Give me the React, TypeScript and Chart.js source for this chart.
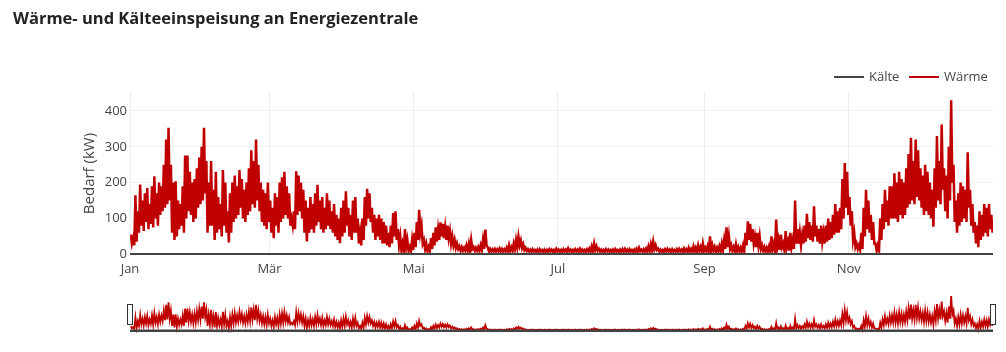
import React, { useEffect, useRef } from 'react';
import { Chart, registerables } from 'chart.js';

Chart.register(...registerables);

const TITLE = 'Wärme- und Kälteeinspeisung an Energiezentrale';
const Y_TITLE = 'Bedarf (kW)';
const SERIES_NAMES = ['Kälte', 'Wärme'];
const SERIES_COLORS = ['#444444', '#c00000'];
const MONTH_TICK_DAYS = [0, 59, 120, 181, 243, 304];
const MONTH_TICK_LABELS = ['Jan', 'Mär', 'Mai', 'Jul', 'Sep', 'Nov'];
const Y_TICKS = [0, 100, 200, 300, 400];

// Kälte: flat at zero over the whole year (day of year)
const kaelteDays = [0, 365];
const kaelteValues = [0, 0];

// Wärme: daily maximum and minimum (kW), day 0 = 1 Jan
const waermeDailyHigh = [
  55, 45, 165, 120, 195, 150, 170,
  185, 140, 190, 218, 170, 200, 190,
  250, 320, 353, 250, 200, 204, 150,
  140, 190, 276, 276, 230, 200, 210,
  240, 270, 300, 353, 260, 200, 260,
  180, 230, 160, 140, 235, 200, 120,
  170, 200, 220, 190, 235, 210, 180,
  200, 240, 290, 260, 320, 250, 200,
  180, 170, 200, 150, 130, 170, 160,
  200, 215, 230, 190, 170, 100, 120,
  232, 220, 200, 180, 150, 130, 160,
  140, 170, 194, 150, 160, 130, 170,
  150, 120, 140, 110, 100, 130, 150,
  176, 130, 110, 150, 160, 100, 60,
  100, 160, 183, 170, 130, 110, 100,
  110, 100, 90, 80, 60, 80, 115,
  120, 70, 50, 30, 70, 40, 20,
  40, 60, 90, 124, 80, 40, 30,
  20, 45, 60, 75, 70, 89, 85,
  75, 80, 65, 50, 40, 30, 22,
  20, 18, 25, 30, 40, 20, 18,
  20, 25, 40, 69, 20, 15, 14,
  15, 14, 16, 15, 14, 18, 25,
  20, 30, 40, 49, 38, 28, 18,
  14, 13, 14, 12, 13, 14, 12,
  13, 12, 14, 13, 12, 15, 13,
  12, 14, 13, 16, 13, 12, 14,
  13, 15, 13, 12, 14, 16, 22,
  30, 22, 15, 13, 12, 14, 13,
  12, 13, 14, 12, 13, 14, 15,
  13, 14, 12, 13, 15, 18, 13,
  14, 16, 22, 28, 35, 25, 16,
  13, 12, 14, 15, 13, 14, 12,
  14, 15, 13, 16, 14, 18, 15,
  22, 18, 25, 20, 30, 18, 22,
  50, 25, 20, 18, 22, 30, 40,
  75, 50, 25, 20, 28, 20, 18,
  25, 60, 92, 85, 70, 50, 60,
  50, 25, 20, 18, 22, 50, 30,
  97, 40, 55, 30, 65, 35, 60,
  40, 150, 70, 60, 55, 80, 113,
  90, 80, 134, 80, 70, 80, 60,
  80, 100, 90, 110, 140, 120, 130,
  210, 255, 230, 160, 120, 60, 30,
  25, 60, 130, 180, 150, 110, 90,
  30, 25, 100, 140, 180, 150, 190,
  190, 226, 200, 230, 210, 200, 240,
  280, 325, 260, 320, 290, 240, 220,
  250, 230, 200, 180, 240, 330, 260,
  362, 240, 220, 300, 430, 250, 150,
  170, 200, 190, 180, 285, 180, 140,
  90, 80, 120, 110, 140, 130, 140,
  110,
];

const waermeDailyLow = [
  30, 25, 35, 60, 80, 65, 90,
  70, 85, 75, 100, 80, 110, 120,
  130, 140, 150, 60, 40, 50, 70,
  80, 60, 100, 120, 110, 90, 100,
  130, 140, 150, 170, 60, 80, 80,
  40, 60, 70, 50, 80, 60, 33,
  60, 90, 100, 110, 130, 100, 90,
  110, 120, 140, 130, 150, 120, 90,
  80, 70, 90, 60, 45, 80, 60,
  90, 100, 110, 100, 80, 80, 70,
  110, 120, 100, 60, 36, 60, 70,
  60, 80, 90, 70, 60, 70, 80,
  70, 60, 50, 40, 31, 50, 60,
  80, 50, 40, 60, 60, 30, 25,
  40, 80, 100, 90, 60, 40, 50,
  40, 30, 30, 25, 20, 30, 50,
  40, 25, 10, 12, 20, 10, 8,
  12, 20, 40, 60, 30, 15, 10,
  8, 15, 25, 35, 40, 50, 45,
  40, 45, 30, 25, 18, 15, 10,
  10, 10, 12, 10, 15, 10, 10,
  10, 12, 15, 25, 8, 8, 8,
  8, 8, 8, 8, 8, 9, 10,
  10, 15, 20, 25, 18, 12, 9,
  8, 7, 8, 7, 7, 8, 7,
  7, 7, 8, 7, 7, 8, 7,
  7, 8, 7, 8, 7, 7, 8,
  7, 8, 7, 7, 8, 8, 10,
  12, 10, 8, 7, 7, 8, 7,
  7, 7, 8, 7, 7, 8, 8,
  7, 8, 7, 7, 8, 9, 7,
  8, 8, 10, 12, 15, 12, 8,
  7, 7, 8, 8, 7, 8, 7,
  8, 8, 7, 8, 7, 8, 8,
  8, 8, 10, 8, 10, 8, 10,
  10, 10, 8, 8, 10, 12, 15,
  20, 15, 10, 8, 10, 8, 8,
  10, 25, 40, 35, 30, 20, 25,
  15, 10, 8, 8, 10, 15, 10,
  20, 12, 20, 10, 20, 10, 20,
  15, 30, 30, 25, 30, 35, 45,
  40, 35, 50, 35, 30, 35, 30,
  35, 40, 45, 55, 60, 60, 70,
  100, 130, 110, 80, 40, 20, 15,
  12, 15, 50, 70, 60, 40, 30,
  10, 12, 40, 70, 90, 80, 100,
  100, 100, 90, 110, 100, 110, 130,
  140, 150, 140, 160, 150, 130, 110,
  120, 110, 100, 77, 130, 150, 140,
  180, 120, 100, 150, 200, 90, 60,
  80, 90, 100, 90, 130, 80, 60,
  30, 20, 40, 50, 60, 50, 70,
  60,
];

const FONT = '"Open Sans", "Noto Sans", sans-serif';

function buildWaermePoints() {
  const pts: { x: number; y: number }[] = [];
  waermeDailyHigh.forEach((h, d) => {
    pts.push({ x: d + 0.3, y: h });
    pts.push({ x: d + 0.8, y: waermeDailyLow[d] });
  });
  return pts;
}

function buildKaeltePoints() {
  return kaelteDays.map((d, i) => ({ x: d, y: kaelteValues[i] }));
}

function makeDatasets(widths: number[]) {
  return [
    {
      label: SERIES_NAMES[0],
      data: buildKaeltePoints(),
      borderColor: SERIES_COLORS[0],
      backgroundColor: SERIES_COLORS[0],
      borderWidth: widths[0],
      pointRadius: 0,
      tension: 0,
    },
    {
      label: SERIES_NAMES[1],
      data: buildWaermePoints(),
      borderColor: SERIES_COLORS[1],
      backgroundColor: SERIES_COLORS[1],
      borderWidth: widths[1],
      pointRadius: 0,
      tension: 0,
    },
  ];
}

const decorPlugin = {
  id: 'decor',
  afterDraw(chart: any) {
    const ctx = chart.ctx;
    ctx.save();
    // title
    ctx.fillStyle = '#222';
    ctx.font = `bold 16.5px ${FONT}`;
    ctx.textAlign = 'left';
    ctx.textBaseline = 'middle';
    ctx.fillText(TITLE, 13, 19);
    // legend
    ctx.font = `13px ${FONT}`;
    const items = chart.data.datasets;
    const positions = [834, 909];
    items.forEach((ds: any, i: number) => {
      const x = positions[i];
      const y = 77;
      ctx.strokeStyle = ds.borderColor;
      ctx.lineWidth = 2;
      ctx.beginPath();
      ctx.moveTo(x, y);
      ctx.lineTo(x + 30, y);
      ctx.stroke();
      ctx.fillStyle = '#444';
      ctx.fillText(ds.label, x + 35, y);
    });
    ctx.restore();
  },
};

const handlePlugin = {
  id: 'handles',
  afterDraw(chart: any) {
    const ctx = chart.ctx;
    const { left, right } = chart.chartArea;
    ctx.save();
    ctx.fillStyle = '#fff';
    ctx.strokeStyle = '#333';
    ctx.lineWidth = 1;
    [left, right].forEach((x: number) => {
      ctx.fillRect(Math.round(x) - 2.5, 14.5, 5, 20);
      ctx.strokeRect(Math.round(x) - 2.5, 14.5, 5, 20);
    });
    ctx.restore();
  },
};

export default function App() {
  const mainRef = useRef<HTMLCanvasElement>(null);
  const sliderRef = useRef<HTMLCanvasElement>(null);

  useEffect(() => {
    const main = new Chart(mainRef.current as HTMLCanvasElement, {
      type: 'line',
      data: { datasets: makeDatasets([2.5, 2.5]) as any },
      options: {
        animation: false,
        responsive: false,
        events: [],
        layout: { padding: { left: 0, right: 13, top: 92, bottom: 0 } },
        scales: {
          x: {
            type: 'linear',
            min: 0,
            max: 365,
            afterBuildTicks: (s: any) => {
              s.ticks = MONTH_TICK_DAYS.map((v) => ({ value: v }));
            },
            afterFit: (s: any) => {
              s.height = 30;
            },
            ticks: {
              autoSkip: false,
              maxRotation: 0,
              color: '#444',
              font: { family: FONT, size: 13 },
              padding: 6,
              callback: (v: any) => {
                const i = MONTH_TICK_DAYS.indexOf(Number(v));
                return i >= 0 ? MONTH_TICK_LABELS[i] : '';
              },
            },
            grid: { color: '#eee', drawTicks: false },
            border: { display: false },
          },
          y: {
            min: -2,
            max: 453,
            afterBuildTicks: (s: any) => {
              s.ticks = Y_TICKS.map((v) => ({ value: v }));
            },
            afterFit: (s: any) => {
              s.width = 130;
            },
            ticks: {
              color: '#444',
              font: { family: FONT, size: 13 },
              padding: 3,
            },
            grid: { color: '#eee', drawTicks: false },
            border: { display: false },
            title: {
              display: true,
              text: Y_TITLE,
              color: '#444',
              font: { family: FONT, size: 15 },
              padding: { top: 81, bottom: 0 },
            },
          },
        },
        plugins: {
          legend: { display: false },
          title: { display: false },
          tooltip: { enabled: false },
        },
      },
      plugins: [decorPlugin],
    });

    const slider = new Chart(sliderRef.current as HTMLCanvasElement, {
      type: 'line',
      data: { datasets: makeDatasets([2.5, 1.8]) as any },
      options: {
        animation: false,
        responsive: false,
        events: [],
        layout: { padding: { left: 130, right: 13, top: 4, bottom: 7 } },
        scales: {
          x: { type: 'linear', display: false, min: 0, max: 365 },
          y: { display: false, min: -28, max: 455 },
        },
        plugins: {
          legend: { display: false },
          title: { display: false },
          tooltip: { enabled: false },
        },
      },
      plugins: [handlePlugin],
    });

    return () => {
      main.destroy();
      slider.destroy();
    };
  }, []);

  return (
    <div style={{ position: 'absolute', left: 0, top: 0, width: 1006, height: 352, background: '#fff' }}>
      <canvas ref={mainRef} width={1006} height={285} style={{ position: 'absolute', left: 0, top: 0 }} />
      <canvas ref={sliderRef} width={1006} height={50} style={{ position: 'absolute', left: 0, top: 290 }} />
    </div>
  );
}
